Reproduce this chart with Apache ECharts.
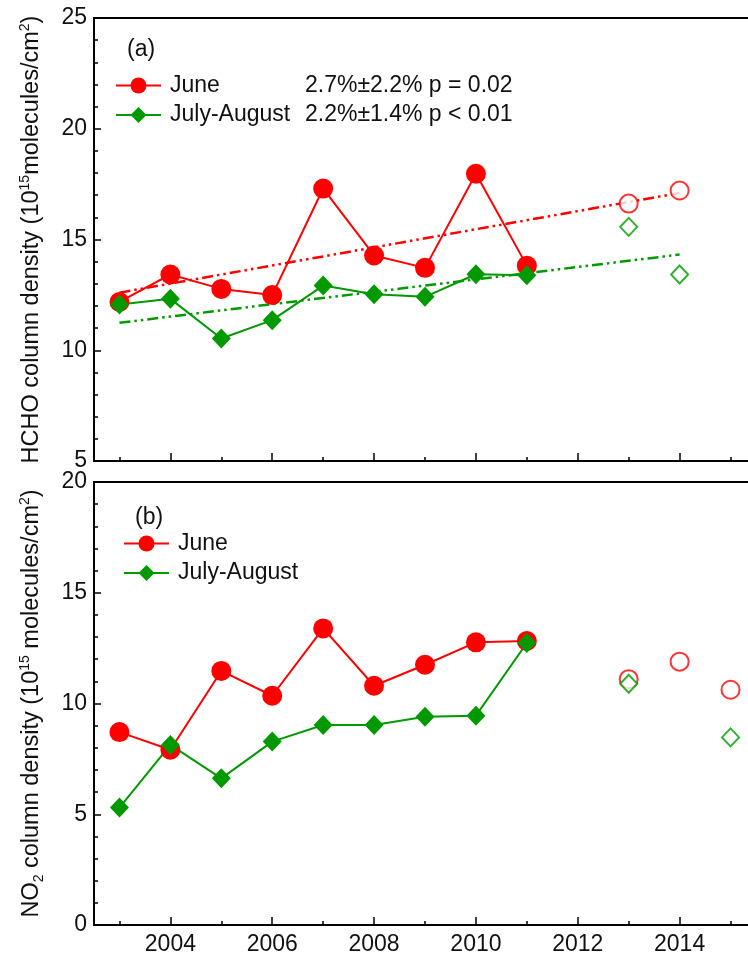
<!DOCTYPE html>
<html><head><meta charset="utf-8">
<script src="https://cdn.jsdelivr.net/npm/echarts@6/dist/echarts.min.js"></script>
<style>html,body{margin:0;padding:0;background:#fff}#c{width:748px;height:959px}</style>
</head><body><div id="c"></div>
<script>
// ---------- data ----------
const years = ['2003','2004','2005','2006','2007','2008','2009','2010','2011','2012','2013','2014','2015'];
// (a) HCHO column density, 10^15 molecules/cm^2
const hchoJune        = [12.18, 13.42, 12.77, 12.49, 17.30, 14.28, 13.72, 17.97, 13.82, null, null, null, null];
const hchoJulyAug     = [12.07, 12.32, 10.53, 11.36, 12.92, 12.53, 12.41, 13.43, 13.39, null, null, null, null];
const hchoJuneLater   = [null, null, null, null, null, null, null, null, null, null, 16.62, 17.21, null];
const hchoJulyAugLater= [null, null, null, null, null, null, null, null, null, null, 15.57, 13.42, null];
const trendYears      = ['2003', '2014'];
const hchoJuneTrend   = [12.60, 17.10];
const hchoJulyAugTrend= [11.24, 14.32];
const trendStats      = ['2.7%±2.2% p = 0.02', '2.2%±1.4% p < 0.01'];
// (b) NO2 column density, 10^15 molecules/cm^2
const no2June         = [8.71, 7.91, 11.47, 10.35, 13.39, 10.80, 11.75, 12.76, 12.82, null, null, null, null];
const no2JulyAug      = [5.30, 8.13, 6.62, 8.28, 9.03, 9.03, 9.40, 9.45, 12.73, null, null, null, null];
const no2JuneLater    = [null, null, null, null, null, null, null, null, null, null, 11.10, 11.89, 10.62];
const no2JulyAugLater = [null, null, null, null, null, null, null, null, null, null, 10.89, null, 8.47];
const seriesNames     = ['June', 'July-August'];

// ---------- styling ----------
const FONT = 'Liberation Sans, Arial, sans-serif';
const RED = '#ff0000';
const GREEN = '#009a00';
const TXT = '#111';
const pairs = arr => years.map((y, i) => [y, arr[i]]).filter(p => p[1] != null);
const even = (i, v) => (+v) % 2 === 0;
const dashDot = [11, 4, 2.5, 4, 2.5, 4];

const nameRich = {
  m: {fontSize: 23.5, lineHeight: 28, fontFamily: FONT, color: TXT},
  s: {fontSize: 14, lineHeight: 15, verticalAlign: 'top', fontFamily: FONT, color: TXT},
  b: {fontSize: 14, lineHeight: 12, verticalAlign: 'bottom', fontFamily: FONT, color: TXT}
};

function mainX(gi, showLabels) {
  return {
    gridIndex: gi, type: 'category', data: years, boundaryGap: true,
    axisLine: {show: true, lineStyle: {color: '#000', width: 2}},
    axisTick: {show: true, inside: true, length: 8, alignWithLabel: true, interval: even, lineStyle: {color: '#000', width: 1.5}},
    axisLabel: {show: showLabels, interval: even, fontSize: 23, color: TXT, fontFamily: FONT, margin: 8},
    splitLine: {show: false}
  };
}
function minorX(gi) {
  return {
    gridIndex: gi, type: 'category', data: years, boundaryGap: true, position: 'bottom',
    axisLine: {show: false},
    axisTick: {show: true, inside: true, length: 4, alignWithLabel: true, interval: 0, lineStyle: {color: '#000', width: 1.5}},
    axisLabel: {show: false}, splitLine: {show: false}
  };
}
function yAx(gi, min, max, name, gap) {
  return {
    gridIndex: gi, type: 'value', min: min, max: max, interval: 5,
    axisLine: {show: true, lineStyle: {color: '#000', width: 2}},
    axisTick: {show: true, inside: true, length: 7, lineStyle: {color: '#000', width: 1.5}},
    minorTick: {show: true, splitNumber: 5, length: 4, lineStyle: {color: '#000', width: 1.5}},
    splitLine: {show: false},
    axisLabel: {fontSize: 23, color: TXT, fontFamily: FONT, margin: 7},
    name: name, nameLocation: 'middle', nameRotate: 90, nameGap: gap,
    nameTextStyle: {rich: nameRich}
  };
}
function lineS(name, xi, yi, data, color, symbol, size) {
  return {
    name: name, type: 'line', xAxisIndex: xi, yAxisIndex: yi, data: data,
    symbol: symbol, symbolSize: size, showAllSymbol: true,
    lineStyle: {color: color, width: 2}, itemStyle: {color: color},
    emphasis: {disabled: true}, z: 3
  };
}
function openS(name, xi, yi, data, color, symbol, size) {
  return {
    name: name, type: 'scatter', xAxisIndex: xi, yAxisIndex: yi, data: pairs(data),
    symbol: symbol, symbolSize: size,
    itemStyle: {color: '#fff', borderColor: color, borderWidth: 2},
    emphasis: {disabled: true}, z: 3
  };
}
function trendS(name, xi, yi, vals, color) {
  return {
    name: name, type: 'line', xAxisIndex: xi, yAxisIndex: yi,
    data: trendYears.map((y, i) => [y, vals[i]]),
    symbol: 'none', lineStyle: {color: color, width: 2.5, type: dashDot},
    emphasis: {disabled: true}, z: 2
  };
}
function legendBox(left, top, stats) {
  return {
    data: seriesNames, orient: 'vertical', left: left, top: top,
    itemWidth: 45, itemHeight: 20, itemGap: 6.5, selectedMode: false,
    formatter: stats
      ? (n => '{n|' + n + '}{s|' + stats[seriesNames.indexOf(n)] + '}')
      : (n => '{n|' + n + '}'),
    textStyle: {
      color: TXT, fontSize: 23, fontFamily: FONT, lineHeight: 20, padding: [0, 0, 0, 4],
      rich: {
        n: {width: stats ? 135 : null, fontSize: 23, fontFamily: FONT, color: TXT, lineHeight: 20},
        s: {fontSize: 23, fontFamily: FONT, color: TXT, lineHeight: 20}
      }
    }
  };
}

const chart = echarts.init(document.getElementById('c'), null, {renderer: 'canvas'});
chart.setOption({
  animation: false,
  backgroundColor: '#fff',
  grid: [
    {left: 94, width: 662, top: 18, height: 443, outerBoundsMode: 'none', containLabel: false,
     show: true, borderColor: '#000', borderWidth: 2, backgroundColor: 'transparent'},
    {left: 94, width: 662, top: 482, height: 443, outerBoundsMode: 'none', containLabel: false,
     show: true, borderColor: '#000', borderWidth: 2, backgroundColor: 'transparent'}
  ],
  xAxis: [mainX(0, false), minorX(0), mainX(1, true), minorX(1)],
  yAxis: [
    yAx(0, 5, 25, '{m|HCHO column density (10}{s|15}{m|molecules/cm}{s|2}{m|)}', 48),
    yAx(1, 0, 20, '{m|NO}{b|2}{m| column density (10}{s|15}{m| molecules/cm}{s|2}{m|)}', 48)
  ],
  legend: [legendBox(110, 69, trendStats), legendBox(118, 527, null)],
  graphic: [
    {type: 'text', left: 127, top: 38, style: {text: '(a)', fontSize: 23, fontFamily: FONT, fill: TXT}},
    {type: 'text', left: 135, top: 506, style: {text: '(b)', fontSize: 23, fontFamily: FONT, fill: TXT}}
  ],
  series: [
    trendS('June trend', 0, 0, hchoJuneTrend, RED),
    trendS('July-August trend', 0, 0, hchoJulyAugTrend, GREEN),
    lineS('June', 0, 0, hchoJune, RED, 'circle', 20),
    lineS('July-August', 0, 0, hchoJulyAug, GREEN, 'diamond', [19, 20]),
    openS('June later', 0, 0, hchoJuneLater, RED, 'circle', 18),
    openS('July-August later', 0, 0, hchoJulyAugLater, GREEN, 'diamond', [17, 18]),
    lineS('June', 2, 1, no2June, RED, 'circle', 20),
    lineS('July-August', 2, 1, no2JulyAug, GREEN, 'diamond', [19, 20]),
    openS('June later', 2, 1, no2JuneLater, RED, 'circle', 18),
    openS('July-August later', 2, 1, no2JulyAugLater, GREEN, 'diamond', [17, 18])
  ]
});
</script></body></html>
